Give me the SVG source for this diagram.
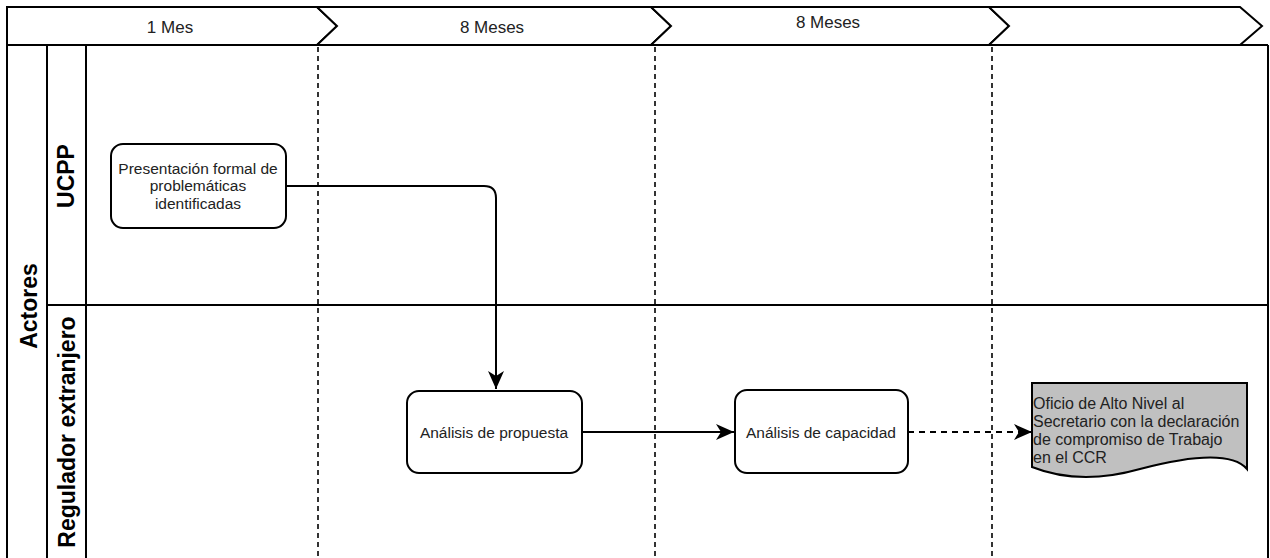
<svg xmlns="http://www.w3.org/2000/svg" width="1270" height="558" viewBox="0 0 1270 558">
<style>
  .hdr { fill:#fff; stroke:#000; stroke-width:2; stroke-linejoin:miter; }
  .ln { stroke:#000; stroke-width:2; fill:none; }
  .dash { stroke:#333; stroke-width:2; stroke-dasharray:5 4; fill:none; }
  .box { fill:#fff; stroke:#000; stroke-width:2; }
  .t { font-family:"Liberation Sans", Arial, sans-serif; font-size:15.5px; fill:#222; }
  .h { font-family:"Liberation Sans", Arial, sans-serif; font-size:17px; fill:#222; }
  .lab { font-family:"Liberation Sans", Arial, sans-serif; font-size:23px; font-weight:bold; fill:#000; }
  .conn { stroke:#000; stroke-width:2; fill:none; }
</style>
<defs>
  <marker id="arr" markerUnits="userSpaceOnUse" markerWidth="20" markerHeight="18" refX="18" refY="8" orient="auto" overflow="visible">
    <path d="M0,0 L18,8 L0,16 L5,8 z" fill="#000"/>
  </marker>
</defs>
<rect x="0" y="0" width="1270" height="558" fill="#fff"/>

<g id="header">
  <path class="hdr" d="M7,7 H317 L337,26 L317,45 H7 Z"/>
  <path class="hdr" d="M317,7 H651 L671,26 L651,45 H317 L337,26 Z"/>
  <path class="hdr" d="M651,7 H989 L1009,26 L989,45 H651 L671,26 Z"/>
  <path class="hdr" d="M989,7 H1240 L1262,26 L1240,45 H989 L1009,26 Z"/>
  <text class="h" x="170" y="33" text-anchor="middle">1 Mes</text>
  <text class="h" x="492" y="33" text-anchor="middle">8 Meses</text>
  <text class="h" x="828" y="28" text-anchor="middle">8 Meses</text>
</g>

<g id="pool">
  <path class="ln" d="M7,45 V560 M1268,45 V560 M7,45 H1268"/>
  <line class="ln" x1="47" y1="45" x2="47" y2="560"/>
  <line class="ln" x1="86" y1="45" x2="86" y2="560"/>
  <line class="ln" x1="47" y1="305" x2="1268" y2="305"/>
  <text class="lab" transform="translate(37,306) rotate(-90)" text-anchor="middle">Actores</text>
  <text class="lab" transform="translate(74,176) rotate(-90)" text-anchor="middle">UCPP</text>
  <text class="lab" transform="translate(75,432) rotate(-90)" text-anchor="middle">Regulador extranjero</text>
</g>

<g id="separators">
  <line class="dash" x1="318" y1="47" x2="318" y2="558"/>
  <line class="dash" x1="655" y1="47" x2="655" y2="558"/>
  <line class="dash" x1="992" y1="47" x2="992" y2="558"/>
</g>

<g id="connectors">
  <path class="conn" d="M286,186 H484 Q496,186 496,198 V389" marker-end="url(#arr)"/>
  <path class="conn" d="M582,432 H734" marker-end="url(#arr)"/>
  <path class="conn" d="M908,432 H1032" stroke-dasharray="6 5" marker-end="url(#arr)"/>
</g>

<g id="n1">
  <rect class="box" x="111" y="144" width="175" height="84" rx="12"/>
  <text class="t" text-anchor="middle"><tspan x="198" y="174">Presentación formal de</tspan><tspan x="198" y="191">problemáticas</tspan><tspan x="198" y="209">identificadas</tspan></text>
</g>

<g id="n2">
  <rect class="box" x="407" y="391" width="175" height="82" rx="12"/>
  <text class="t" x="494" y="438" text-anchor="middle">Análisis de propuesta</text>
</g>

<g id="n3">
  <rect class="box" x="735" y="390" width="173" height="83" rx="12"/>
  <text class="t" x="821" y="438" text-anchor="middle">Análisis de capacidad</text>
</g>

<g id="n4">
  <path d="M1032,383 H1247 V469 Q1227,446 1140,469 Q1080,486 1032,467 Z" fill="#c0c0c0" stroke="#000" stroke-width="2"/>
  <text class="t" style="font-size:16px"><tspan x="1033" y="409">Oficio de Alto Nivel al</tspan><tspan x="1033" y="427">Secretario con la declaración</tspan><tspan x="1033" y="445">de compromiso de Trabajo</tspan><tspan x="1033" y="463">en el CCR</tspan></text>
</g>
</svg>
